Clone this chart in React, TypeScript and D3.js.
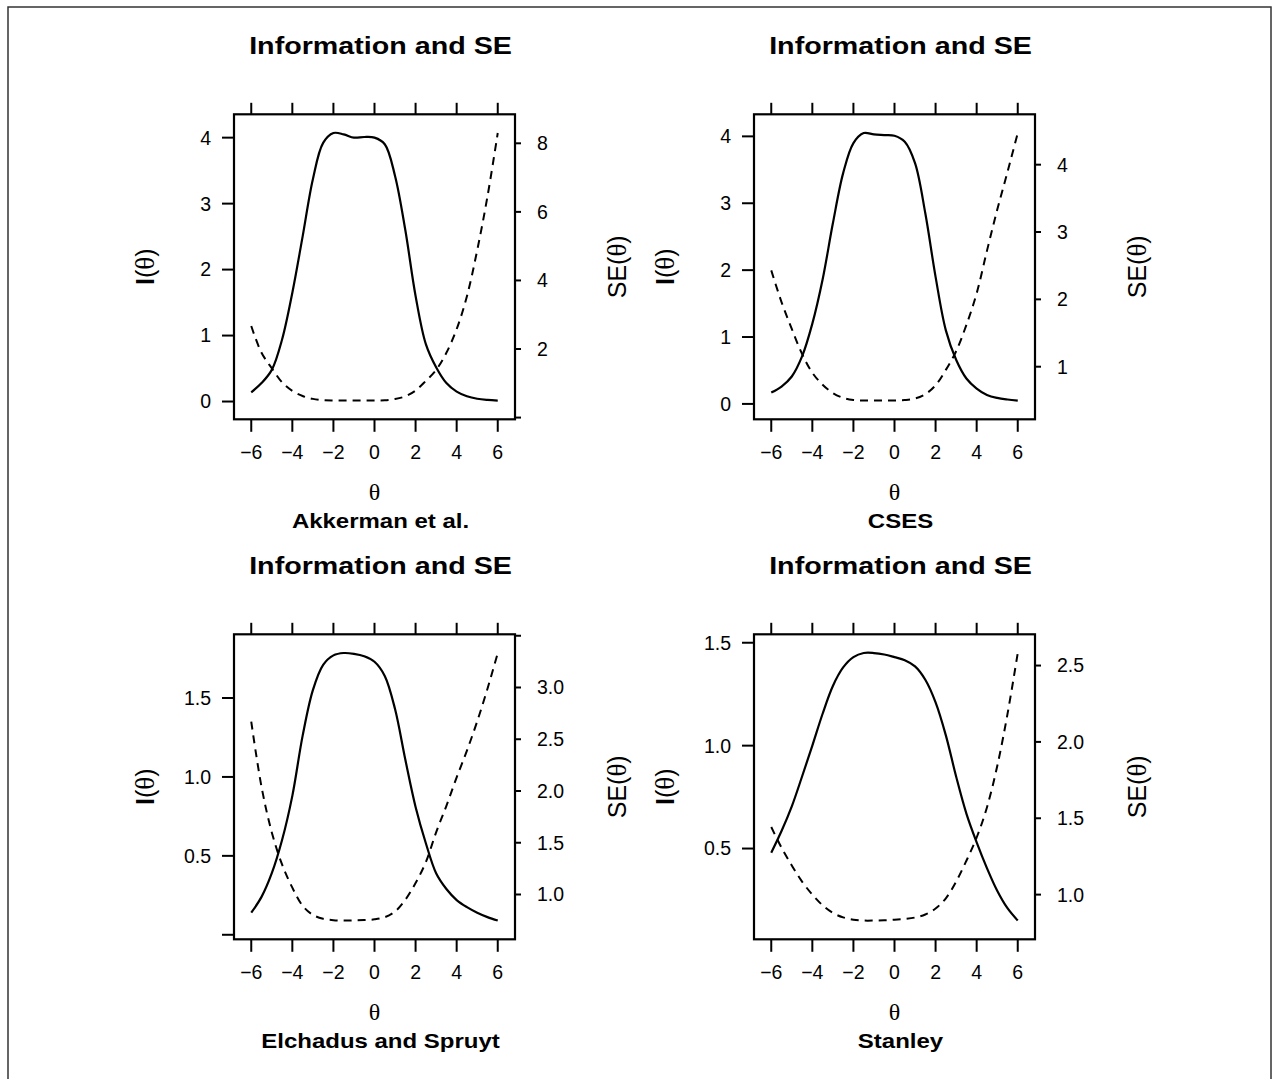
import * as d3 from "d3";

// theta grid shared by all four panels
const theta = [-6, -5.5, -5, -4.5, -4, -3.5, -3, -2.5, -2, -1.5, -1, -0.5, 0, 0.5, 1, 1.5, 2, 2.5, 3, 3.5, 4, 4.5, 5, 5.5, 6];

// test information I(theta)
const akkermanInfo = [0.14, 0.28, 0.48, 0.94, 1.65, 2.5, 3.37, 3.92, 4.07, 4.05, 4.0, 4.01, 4.0, 3.9, 3.42, 2.6, 1.6, 0.87, 0.52, 0.28, 0.15, 0.08, 0.042, 0.024, 0.0145];
const csesInfo = [0.17, 0.26, 0.41, 0.71, 1.2, 1.86, 2.7, 3.45, 3.9, 4.05, 4.03, 4.02, 4.01, 3.92, 3.6, 2.85, 1.9, 1.1, 0.66, 0.38, 0.23, 0.135, 0.09, 0.066, 0.05];
const elchadusInfo = [0.14, 0.24, 0.39, 0.6, 0.88, 1.26, 1.55, 1.71, 1.77, 1.785, 1.78, 1.765, 1.73, 1.64, 1.43, 1.11, 0.81, 0.58, 0.39, 0.29, 0.22, 0.175, 0.14, 0.112, 0.09];
const stanleyInfo = [0.48, 0.585, 0.705, 0.85, 1.0, 1.155, 1.29, 1.38, 1.43, 1.45, 1.45, 1.443, 1.43, 1.415, 1.385, 1.32, 1.21, 1.05, 0.85, 0.67, 0.53, 0.405, 0.295, 0.21, 0.15];

// standard error SE(theta)
const akkermanSE = [2.67, 1.89, 1.44, 1.03, 0.78, 0.63, 0.545, 0.505, 0.496, 0.497, 0.5, 0.499, 0.5, 0.506, 0.541, 0.62, 0.79, 1.07, 1.39, 1.89, 2.58, 3.54, 4.88, 6.45, 8.3];
const csesSE = [2.43, 1.96, 1.56, 1.19, 0.91, 0.733, 0.609, 0.538, 0.506, 0.497, 0.498, 0.499, 0.499, 0.505, 0.527, 0.592, 0.725, 0.953, 1.23, 1.62, 2.09, 2.72, 3.33, 3.89, 4.47];
const elchadusSE = [2.67, 2.04, 1.6, 1.29, 1.066, 0.891, 0.803, 0.765, 0.752, 0.748, 0.75, 0.753, 0.76, 0.781, 0.836, 0.949, 1.111, 1.313, 1.601, 1.857, 2.132, 2.39, 2.673, 2.988, 3.333];
const stanleySE = [1.443, 1.307, 1.191, 1.085, 1.0, 0.93, 0.88, 0.851, 0.836, 0.83, 0.83, 0.832, 0.836, 0.841, 0.85, 0.87, 0.909, 0.976, 1.085, 1.222, 1.374, 1.571, 1.841, 2.182, 2.582];

const panelNames = ["Akkerman et al.", "CSES", "Elchadus and Spruyt", "Stanley"];
const infoSeries = [akkermanInfo, csesInfo, elchadusInfo, stanleyInfo];
const seSeries = [akkermanSE, csesSE, elchadusSE, stanleySE];

// axis ticks (empty label = tick drawn without text)
const thetaTicks = [-6, -4, -2, 0, 2, 4, 6];
const infoTicks = [[0, 1, 2, 3, 4], [0, 1, 2, 3, 4], [0, 0.5, 1, 1.5], [0.5, 1, 1.5]];
const infoTickLabels = [["0", "1", "2", "3", "4"], ["0", "1", "2", "3", "4"], ["", "0.5", "1.0", "1.5"], ["0.5", "1.0", "1.5"]];
const seTicks = [[0, 2, 4, 6, 8], [1, 2, 3, 4], [1, 1.5, 2, 2.5, 3, 3.5], [1, 1.5, 2, 2.5]];
const seTickLabels = [["", "2", "4", "6", "8"], ["1", "2", "3", "4"], ["1.0", "1.5", "2.0", "2.5", "3.0", ""], ["1.0", "1.5", "2.0", "2.5"]];

const panelTitle = "Information and SE";

// lattice-like padding of the data range
function padded(values: number[]): [number, number] {
  const [lo, hi] = d3.extent(values) as [number, number];
  const d = hi - lo;
  return [lo - 0.07 * d, hi + 0.07 * d];
}

const SANS = "'Liberation Sans', Arial, Helvetica, sans-serif";
const SERIF = "'Liberation Serif', 'Times New Roman', serif";

// box of the first panel; the others are shifted by 520px
const box = { left: 234, right: 515, top: 114.3, bottom: 419.3 };
const step = 520;

function Panel({ index }: { index: number }) {
  const dx = (index % 2) * step;
  const dy = Math.floor(index / 2) * step;

  const x = d3.scaleLinear().domain(padded(theta)).range([box.left, box.right]);
  const yInfo = d3.scaleLinear().domain(padded(infoSeries[index])).range([box.bottom, box.top]);
  const ySE = d3.scaleLinear().domain(padded(seSeries[index])).range([box.bottom, box.top]);

  const infoData = theta.map((t, i) => [t, infoSeries[index][i]] as [number, number]);
  const seData = theta.map((t, i) => [t, seSeries[index][i]] as [number, number]);

  const infoLine = d3.line<[number, number]>()
    .x(d => x(d[0]))
    .y(d => yInfo(d[1]))
    .curve(d3.curveCatmullRom.alpha(0.5));
  const seLine = d3.line<[number, number]>()
    .x(d => x(d[0]))
    .y(d => ySE(d[1]))
    .curve(d3.curveCatmullRom.alpha(0.5));

  const midX = (box.left + box.right) / 2;
  const midY = (box.top + box.bottom) / 2;
  const titleX = 380.5;

  return (
    <g transform={`translate(${dx},${dy})`}>
      {/* title */}
      <text transform={`translate(${titleX},54) scale(1.17,1)`} textAnchor="middle"
        fontFamily={SANS} fontWeight="bold" fontSize={24.5}>{panelTitle}</text>

      {/* curves */}
      <path d={infoLine(infoData) || ""} fill="none" stroke="#000" strokeWidth={2.2} />
      <path d={seLine(seData) || ""} fill="none" stroke="#000" strokeWidth={2} strokeDasharray="8,6" />

      {/* box */}
      <rect x={box.left} y={box.top} width={box.right - box.left} height={box.bottom - box.top}
        fill="none" stroke="#000" strokeWidth={2.2} />

      {/* theta ticks, top and bottom */}
      {thetaTicks.map(t => (
        <g key={"t" + t}>
          <line x1={x(t)} x2={x(t)} y1={box.top} y2={box.top - 11.5} stroke="#000" strokeWidth={2} />
          <line x1={x(t)} x2={x(t)} y1={box.bottom} y2={box.bottom + 12.5} stroke="#000" strokeWidth={2} />
          <text x={x(t)} y={458.6} textAnchor="middle" fontFamily={SANS} fontSize={19.5}>
            {t < 0 ? "\u2212" + Math.abs(t) : String(t)}
          </text>
        </g>
      ))}

      {/* left axis: information */}
      {infoTicks[index].map((v, i) => (
        <g key={"i" + v}>
          <line x1={box.left} x2={box.left - 12} y1={yInfo(v)} y2={yInfo(v)} stroke="#000" strokeWidth={2} />
          <text x={211} y={yInfo(v) + 6.9} textAnchor="end" fontFamily={SANS} fontSize={19.5}>
            {infoTickLabels[index][i]}
          </text>
        </g>
      ))}

      {/* right axis: standard error */}
      {seTicks[index].map((v, i) => (
        <g key={"s" + v}>
          <line x1={box.right} x2={box.right + 6} y1={ySE(v)} y2={ySE(v)} stroke="#000" strokeWidth={2} />
          <text x={537} y={ySE(v) + 6.9} textAnchor="start" fontFamily={SANS} fontSize={19.5}>
            {seTickLabels[index][i]}
          </text>
        </g>
      ))}

      {/* axis titles */}
      <text x={midX} y={500} textAnchor="middle" fontFamily={SERIF} fontSize={24}>θ</text>
      <text transform={`translate(154,${midY}) rotate(-90)`} textAnchor="middle" fontSize={25}>
        <tspan fontFamily={SANS} fontWeight="bold">I</tspan>
        <tspan fontFamily={SANS}>(</tspan>
        <tspan fontFamily={SERIF} fontSize={27}>θ</tspan>
        <tspan fontFamily={SANS}>)</tspan>
      </text>
      <text transform={`translate(626,${midY}) rotate(-90)`} textAnchor="middle" fontSize={25}>
        <tspan fontFamily={SANS}>SE(</tspan>
        <tspan fontFamily={SERIF} fontSize={27}>θ</tspan>
        <tspan fontFamily={SANS}>)</tspan>
      </text>

      {/* panel name */}
      <text transform={`translate(${titleX},528) scale(1.17,1)`} textAnchor="middle"
        fontFamily={SANS} fontWeight="bold" fontSize={20.5}>{panelNames[index]}</text>
    </g>
  );
}

export default function App() {
  return (
    <svg width={1275} height={1079} style={{ position: "absolute", left: 0, top: 0, background: "#fff" }}>
      <rect x={0} y={0} width={1275} height={1079} fill="#fff" />
      <rect x={8} y={7} width={1263} height={1100} fill="none" stroke="#333" strokeWidth={1.5} />
      {panelNames.map((_, i) => <Panel key={i} index={i} />)}
    </svg>
  );
}
